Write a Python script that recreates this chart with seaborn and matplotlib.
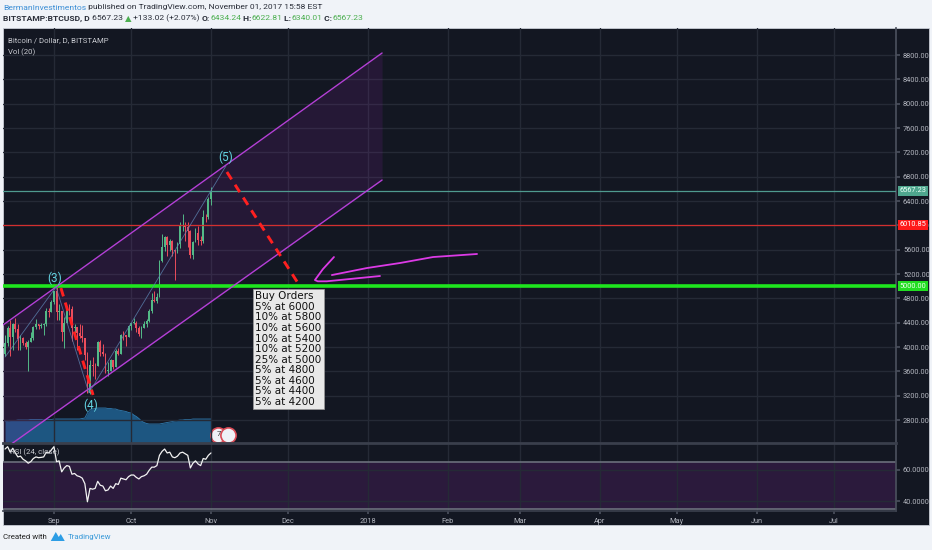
import numpy as np
import pandas as pd
import matplotlib
matplotlib.use('Agg')
import matplotlib.pyplot as plt
import matplotlib.transforms as mtransforms
from matplotlib.patches import Rectangle, Polygon
from matplotlib import font_manager
import seaborn as sns

# ---------------- data ----------------
dates = pd.date_range('2017-08-13', '2017-11-01', freq='D')

opens = [3880, 4070, 4320, 4160, 4370, 4290, 4130, 4150, 4070, 4000,
         4090, 4140, 4330, 4370, 4350, 4360, 4380, 4590, 4570,
         4740, 4920, 4580, 4600, 4240, 4400, 4630, 4620, 4310, 4330,
         4230, 4180, 4150, 3870, 3250, 3700, 3690, 3680, 4090, 3910,
         3880, 3610, 3610, 3780, 3670, 3930, 3890, 4200, 4190, 4160,
         4340, 4400, 4400, 4310, 4210, 4320, 4370, 4430, 4600, 4770,
         4760, 4820, 5420, 5640, 5810, 5680, 5740, 5590, 5570, 5700,
         6000, 6000, 5980, 5900, 5520, 5730, 5880, 5760, 5740, 6140,
         6130, 6434.24]
highs = [4200, 4340, 4440, 4400, 4480, 4370, 4190, 4170, 4100, 4110,
         4250, 4350, 4460, 4380, 4400, 4400, 4640, 4640, 4770,
         4920, 4980, 4700, 4600, 4500, 4680, 4700, 4680, 4380, 4330,
         4380, 4360, 4150, 3920, 3780, 3830, 3730, 4100, 4110, 4050,
         3900, 3750, 3800, 3780, 3960, 3980, 4220, 4260, 4200, 4360,
         4400, 4470, 4430, 4350, 4350, 4420, 4460, 4620, 4880, 4920,
         4880, 5430, 5850, 5820, 5830, 5780, 5760, 5600, 5730, 6060,
         6180, 6060, 6050, 5920, 5750, 5960, 5990, 5830, 6250, 6190,
         6460, 6622.81]
lows = [3850, 4010, 3850, 3950, 4250, 3950, 3950, 4040, 3970, 3600,
        4080, 4110, 4300, 4290, 4320, 4200, 4340, 4500, 4570,
        4700, 4450, 4450, 4100, 3980, 4400, 4520, 4100, 4150, 3950,
        4150, 4080, 3780, 3250, 3230, 3530, 3480, 3680, 3850, 3860,
        3570, 3520, 3600, 3640, 3670, 3870, 3890, 4120, 4020, 4160,
        4280, 4370, 4250, 4180, 4150, 4310, 4330, 4410, 4560, 4740,
        4730, 4820, 5400, 5570, 5500, 5580, 5500, 5100, 5550, 5620,
        5900, 5750, 5650, 5460, 5450, 5730, 5680, 5680, 5710, 6050,
        6110, 6340.01]
closes = [4070, 4320, 4160, 4370, 4290, 4130, 4150, 4070, 4000, 4090,
          4140, 4330, 4370, 4350, 4360, 4380, 4590, 4570, 4740,
          4920, 4580, 4600, 4240, 4400, 4630, 4620, 4310, 4330, 4230,
          4180, 4150, 3870, 3250, 3700, 3690, 3680, 4090, 3910, 3880,
          3610, 3610, 3780, 3670, 3930, 3890, 4200, 4190, 4160, 4340,
          4400, 4400, 4310, 4210, 4320, 4370, 4430, 4600, 4770, 4760,
          4820, 5420, 5640, 5810, 5680, 5740, 5590, 5570, 5700, 6000,
          6000, 5980, 5900, 5520, 5730, 5880, 5760, 5740, 6140, 6130,
          6440, 6567.23]

# Vol (20) moving average, thousand BTC
vol_ma = [22, 22, 22.5, 22.5, 22.5, 23, 23, 23, 23, 23,
          23.5, 23.5, 23.5, 23.5, 23.5, 23, 23, 23.5, 23.5, 24,
          24, 24, 24, 24, 24, 24, 24, 24, 24, 24,
          24.5, 25, 30, 33.5, 34, 34.5, 35, 35, 35, 35,
          34.5, 34.5, 34, 34, 33, 32.5, 32, 31.5, 30.5, 30,
          28, 26.5, 24.5, 22, 20.5, 19.5, 19, 19, 19, 19,
          19, 19.5, 20, 20.5, 21, 21.5, 22, 22.5, 23, 23,
          23.5, 23.5, 23.5, 24, 24, 24, 24, 24, 24, 24, 24]

# RSI (24, close)
rsi = [73, 74.5, 71, 73.5, 70.5, 68, 68.5, 66.5, 65.5, 64,
       65, 67, 68, 67.5, 67.7, 68, 71, 70.5, 72.5,
       74.5, 65, 65.5, 58.5, 61, 62.5, 62, 57, 57.5, 56,
       55.5, 54.5, 51, 39.5, 48, 47.5, 48, 52.5, 50, 49.5,
       46.5, 47, 49.5, 48, 51, 50.5, 54.5, 54, 53.5, 55.5,
       56.5, 56.5, 55, 54, 55.5, 56, 57, 59.5, 61.5, 61.5,
       62.5, 69, 71.5, 73, 70.5, 71, 68, 67.5, 68.5, 70.5,
       71, 70, 69, 61, 64, 65.5, 63.5, 62.5, 67, 66.5,
       69, 70.5]

# drawings (day offset from 2017-09-01, price)
channel_days = [-19.8, 127.5]
channel_upper = [4361, 8833]
channel_lower = [2308, 6745]
wave_days = [-19.0, 0.8, 13.6, 66.8]
wave_prices = [3835, 4986, 3243, 6975]
wave_labels = ['(3)', '(4)', '(5)']
wave_label_days = [0.4, 14.4, 66.8]
wave_label_prices = [5134, 3046, 7123]
red_dash_1 = ([2.7, 15.2], [4970, 3211])
red_dash_2 = ([67.2, 94.8], [6877, 5052])
arrow_head_days = [108.8, 104.5, 101.4, 102.5, 106.0, 126.7]
arrow_head_prices = [5479, 5280, 5101, 5080, 5080, 5167]
arrow_tail_days = [108.0, 121.6, 134.5, 147.3, 164.4]
arrow_tail_prices = [5183, 5298, 5381, 5479, 5529]

support = 5000.00
resistance = 6010.85
last_price = 6567.23
buy_orders = ["Buy Orders", "5% at 6000", "10% at 5800", "10% at 5600",
              "10% at 5400", "10% at 5200", "25% at 5000", "5% at 4800",
              "5% at 4600", "5% at 4400", "5% at 4200"]

# ---------------- style ----------------
sns.set_theme(style='dark')
names = {f.name for f in font_manager.fontManager.ttflist}
narrow = 'Liberation Sans Narrow' if 'Liberation Sans Narrow' in names else 'Roboto'
small = 6.2 if narrow == 'Liberation Sans Narrow' else 5.3
plt.rcParams['font.family'] = [narrow, 'DejaVu Sans']

BG = '#131722'
GRID = '#252a36'
TXT = '#b2b5be'

W, H = 932, 550
fig = plt.figure(figsize=(W / 100, H / 100), dpi=100, facecolor='#f0f3f8')


def fx(px):
    return px / W


def fy(py):
    return 1 - py / H


fig.patches.append(Rectangle((fx(3), fy(525)), (929 - 3) / W, (525 - 28) / H,
                             transform=fig.transFigure, fc=BG, ec='#c8ccd6', lw=0.6,
                             zorder=-10))

ax_p = fig.add_axes([fx(3), fy(443), (896 - 3) / W, (443 - 28) / H])
ax_v = ax_p.twinx()
ax_r = fig.add_axes([fx(3), fy(511), (896 - 3) / W, (511 - 444) / H])
ax_v.set_zorder(0)
ax_p.set_zorder(1)
for a in (ax_p, ax_v, ax_r):
    a.patch.set_visible(False)

base = pd.Timestamp('2017-09-01')
days = (dates - base).days.values
o, h, l, c = map(np.array, (opens, highs, lows, closes))

months = pd.date_range('2017-09-01', '2018-07-01', freq='MS')
month_days = (months - base).days.values
month_labels = [str(m.year) if m.month == 1 else m.strftime('%b') for m in months]

xlim = (-19.8, 327.2)

# ---------------- price pane ----------------
ax_p.set_xlim(*xlim)
ax_p.set_ylim(2422, 9244)
ax_p.set_xticks(month_days)
ax_p.set_yticks(np.arange(2800, 8801, 400))
ax_p.set_yticklabels([f'{v:.2f}' for v in np.arange(2800, 8801, 400)])
ax_p.yaxis.tick_right()
ax_p.tick_params(axis='x', length=0, labelbottom=False)
ax_p.tick_params(axis='y', length=3, color='#4a4f5c', labelcolor=TXT,
                 labelsize=small, pad=2, right=True, left=False)
ax_p.grid(True, color=GRID, lw=1)
for s in ('top', 'left'):
    ax_p.spines[s].set_visible(False)
ax_p.spines['right'].set_color('#4a4f5c')
ax_p.spines['bottom'].set_color('#3a3f4c')
ax_p.spines['bottom'].set_linewidth(2)

ax_p.fill_between(channel_days, channel_lower, channel_upper, color='#8e24aa',
                  alpha=0.15, lw=0, zorder=1)

ax_p.axhline(resistance, color='#d32f2f', lw=0.9, zorder=6)
ax_p.axhline(last_price, color='#4f9a8f', lw=0.9, zorder=6)
ax_p.axhline(support, color='#1ee61e', lw=2.6, zorder=6)

up = c >= o
cols = np.where(up, '#53b987', '#eb4d5c')
ax_p.vlines(days, l, h, colors=cols, lw=0.7, zorder=4)
ax_p.bar(days, np.maximum(np.abs(c - o), 10), bottom=np.minimum(o, c),
         width=0.7, color=cols, lw=0, zorder=5)

sns.lineplot(x=channel_days, y=channel_upper, ax=ax_p, color='#b43fd6', lw=1, zorder=7)
sns.lineplot(x=channel_days, y=channel_lower, ax=ax_p, color='#b43fd6', lw=1, zorder=7)
ax_p.plot(wave_days, wave_prices, color='#5c84b1', lw=0.6, alpha=0.8, zorder=7)
for seg in (red_dash_1, red_dash_2):
    ax_p.plot(seg[0], seg[1], color='#ff2020', lw=2.1, dashes=(3, 2.2), zorder=8)
for lab, xd, yp in zip(wave_labels, wave_label_days, wave_label_prices):
    ax_p.text(xd, yp, lab, color='#62d2e0', fontsize=8.5, ha='center', va='center',
              family=['Roboto', 'DejaVu Sans'], zorder=9)

ax_p.plot(arrow_head_days, arrow_head_prices, color='#dc3ae6', lw=1.3,
          solid_capstyle='round', solid_joinstyle='round', zorder=8)
ax_p.plot(arrow_tail_days, arrow_tail_prices, color='#dc3ae6', lw=1.3,
          solid_capstyle='round', zorder=8)

ax_p.text(78.3, 4915, '\n'.join(buy_orders), va='top', ha='left', fontsize=7.5,
          family='DejaVu Sans', color='#111111', linespacing=1.07, zorder=9,
          bbox=dict(boxstyle='square,pad=0.22', fc='#e8e8e8', ec='#9a9a9a', lw=0.5))

trans = mtransforms.blended_transform_factory(ax_p.transAxes, ax_p.transData)
for val, fc, tc in ((last_price, '#4fa68e', '#eafff6'),
                    (resistance, '#ff1a1a', '#ffffff'),
                    (support, '#22dd22', '#eaffea')):
    ax_p.text(1.004, val, f'{val:.2f}', transform=trans, ha='left', va='center',
              fontsize=small, color=tc, clip_on=False, zorder=10,
              bbox=dict(boxstyle='square,pad=0.22', fc=fc, ec='none'))

# ---------------- volume ----------------
ax_v.set_ylim(0, 415)
ax_v.fill_between(days, 0, vol_ma, color='#1f5e8c', alpha=0.9, lw=0)
ax_v.plot(days, vol_ma, color='#2f7bb0', lw=0.6)
ax_v.scatter([63.6, 67.8], [8, 8], s=120, fc='#eef1f6', ec='#d84a55', lw=1.2, zorder=5)
ax_v.text(64.2, 9.5, '7', fontsize=5.5, color='#333', ha='center', va='center', zorder=6)
ax_v.set_axis_off()

# ---------------- RSI pane ----------------
ax_r.set_xlim(*xlim)
ax_r.set_ylim(33.65, 76.2)
ax_r.axhspan(35, 65, color='#2b1a3c', lw=0, zorder=0)
ax_r.axhline(65, color='#6b6f7c', lw=1.2, zorder=1)
ax_r.axhline(35, color='#6b6f7c', lw=1.2, zorder=1)
sns.lineplot(x=days, y=rsi, ax=ax_r, color='#f2f2f2', lw=0.9, zorder=3)
ax_r.set_xlabel('')
ax_r.set_ylabel('')
ax_r.set_xticks(month_days)
ax_r.set_xticklabels(month_labels)
ax_r.set_yticks([40, 60])
ax_r.set_yticklabels(['40.0000', '60.0000'])
ax_r.yaxis.tick_right()
ax_r.grid(True, color=GRID, lw=1, zorder=0.5)
ax_r.tick_params(axis='x', length=2, color='#4a4f5c', labelcolor=TXT,
                 labelsize=small, pad=3, bottom=True)
ax_r.tick_params(axis='y', length=3, color='#4a4f5c', labelcolor=TXT,
                 labelsize=small, pad=2, right=True, left=False)
for s in ('top', 'left'):
    ax_r.spines[s].set_visible(False)
ax_r.spines['right'].set_color('#4a4f5c')
ax_r.spines['bottom'].set_color('#3a3f4c')

# ---------------- texts ----------------
fig.text(fx(8), fy(40), 'Bitcoin / Dollar, D, BITSTAMP', color='#c8cad0',
         fontsize=small + 0.3, va='center')
fig.text(fx(8), fy(52), 'Vol (20)', color='#c8cad0', fontsize=small + 0.3, va='center')
fig.text(fx(10), fy(452), 'RSI (24, close)', color='#c8cad0', fontsize=small + 0.3,
         va='center', zorder=5)

renderer = fig.canvas.get_renderer()


def chain(segments, x0, y, size):
    x = x0
    for s, col, wt in segments:
        t = fig.text(x, y, s, color=col, fontsize=size, fontweight=wt, va='center',
                     ha='left', family=[narrow, 'DejaVu Sans'])
        x += t.get_window_extent(renderer).width / W
    return x


DARK = '#2a2e39'
GREEN = '#4caf50'
hsize = small + 0.8
chain([('BermanInvestimentos', '#3d8fd6', 'normal'),
       (' published on TradingView.com, November 01, 2017 15:58 EST', DARK, 'normal')],
      fx(3), fy(7.5), hsize)
chain([('BITSTAMP:BTCUSD, D', DARK, 'bold'), (' 6567.23 ', DARK, 'normal'),
       ('▲', GREEN, 'normal'), (' +133.02 (+2.07%) ', DARK, 'normal'),
       ('O:', DARK, 'bold'), ('6434.24', GREEN, 'normal'),
       (' H:', DARK, 'bold'), ('6622.81', GREEN, 'normal'),
       (' L:', DARK, 'bold'), ('6340.01', GREEN, 'normal'),
       (' C:', DARK, 'bold'), ('6567.23', GREEN, 'normal')],
      fx(3), fy(18.5), hsize)

end = chain([('Created with  ', '#222', 'normal')], fx(3), fy(537), small + 0.4)
logo_x = end * W
fig.patches.append(Polygon([(fx(logo_x), fy(541)), (fx(logo_x + 5), fy(532)),
                            (fx(logo_x + 8), fy(537)), (fx(logo_x + 10), fy(534)),
                            (fx(logo_x + 14), fy(541))], closed=True,
                           transform=fig.transFigure, fc='#2d9de5', ec='none'))
fig.text(fx(logo_x + 17), fy(537), 'TradingView', color='#3a9ad9', fontsize=small + 0.4,
         va='center')

fig.savefig('out.png', dpi=100, facecolor=fig.get_facecolor())
